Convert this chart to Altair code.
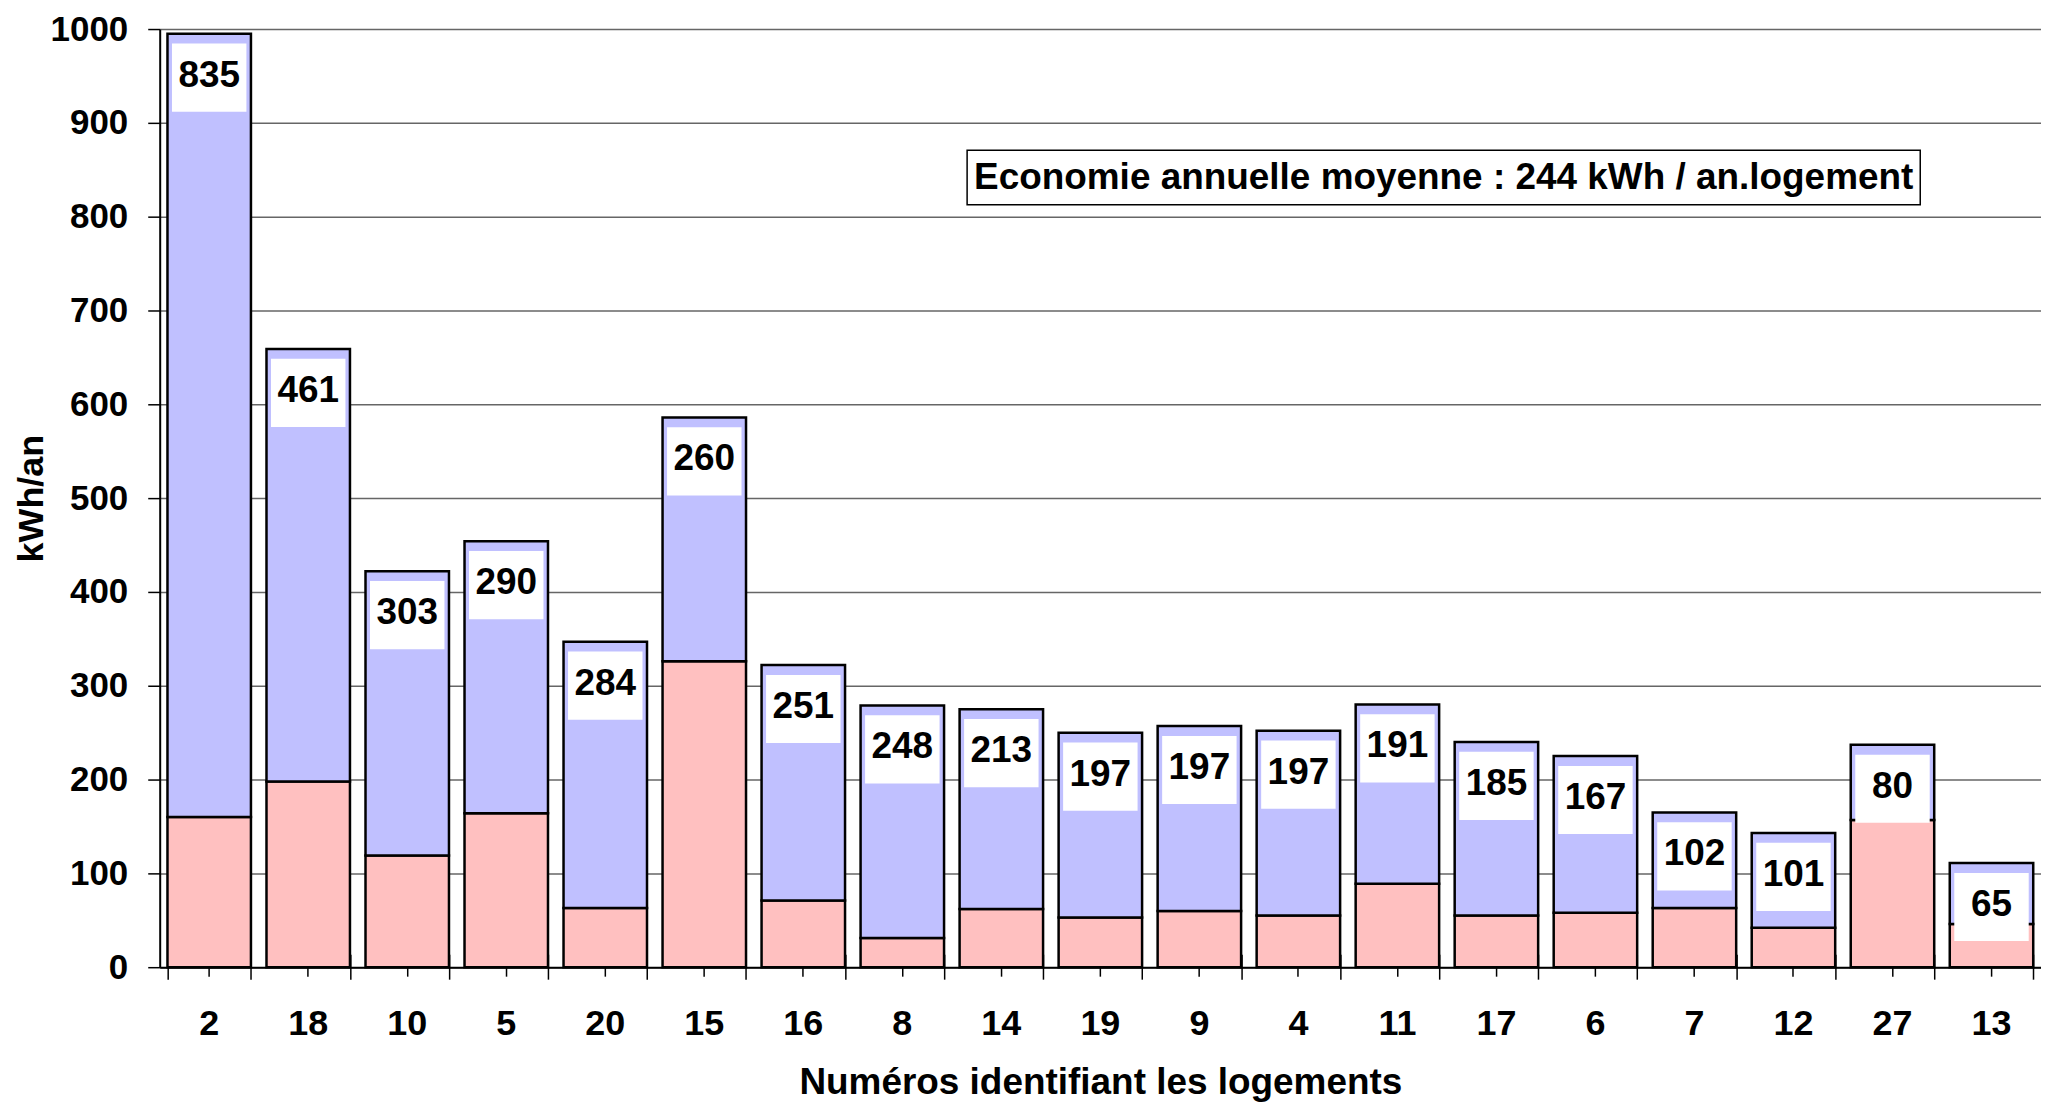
import altair as alt
import pandas as pd

# ---- data ----
logements = ["2", "18", "10", "5", "20", "15", "16", "8", "14", "19",
             "9", "4", "11", "17", "6", "7", "12", "27", "13"]
consommation_restante = [160, 198, 119, 164, 63, 326, 71, 31, 62, 53,
                         60, 55, 89, 55, 58, 63, 42, 157, 46]
economie = [835, 461, 303, 290, 284, 260, 251, 248, 213, 197,
            197, 197, 191, 185, 167, 102, 101, 80, 65]
y_ticks = list(range(0, 1001, 100))
annotation = ["Economie annuelle moyenne : 244 kWh / an.logement"]
x_title = "Numéros identifiant les logements"
y_title = "kWh/an"

df = pd.DataFrame({
    "logement": logements,
    "reste": consommation_restante,
    "economie": economie,
})
df["total"] = df["reste"] + df["economie"]
ann_df = pd.DataFrame({"txt": annotation})

FONT = "Liberation Sans"
W, H = 1885, 940

xscale = alt.Scale(paddingInner=0.157, paddingOuter=0.0785)
yscale = alt.Scale(domain=[0, 1000], nice=False, zero=True)

x_main_axis = alt.Axis(
    orient="bottom",
    title=x_title, titleFont=FONT, titleFontSize=37, titleFontWeight="bold",
    titleColor="black", titleX=W / 2, titleY=127, titleBaseline="alphabetic",
    titleAlign="center",
    labelFont=FONT, labelFontSize=36, labelFontWeight="bold", labelColor="black",
    labelAngle=0, labelBaseline="alphabetic", labelPadding=58,
    tickSize=9, tickColor="black", tickWidth=1.5, tickBand="center",
    domainColor="black", domainWidth=2, grid=False,
)
x_tick_axis = alt.Axis(
    orient="bottom",
    title=None, labels=False, domain=False, grid=False,
    tickBand="extent", tickSize=25, offset=-13, tickColor="black", tickWidth=1.5,
)
y_axis = alt.Axis(
    orient="left",
    values=y_ticks, format="d", title=y_title, titleFont=FONT, titleFontSize=36,
    titleFontWeight="bold", titleColor="black", titleAngle=270,
    titleX=-117, titleY=H / 2, titleBaseline="alphabetic", titleAlign="center",
    labelFont=FONT, labelFontSize=35, labelFontWeight="bold", labelColor="black",
    labelPadding=20, tickSize=12, tickColor="black", tickWidth=1.5,
    domainColor="black", domainWidth=2,
    grid=True, gridColor="#666666", gridWidth=1.5,
)

sort_order = logements
base = alt.Chart(df)

pink = base.mark_bar(fill="#FFC0C0", stroke="black", strokeWidth=2.5).encode(
    x=alt.X("logement:N", sort=sort_order, scale=xscale, axis=x_main_axis),
    y=alt.Y("reste:Q", scale=yscale, axis=y_axis),
)
blue = base.mark_bar(fill="#C0C0FF", stroke="black", strokeWidth=2.5).encode(
    x=alt.X("logement:N", sort=sort_order, scale=xscale, axis=None),
    y=alt.Y("reste:Q", scale=yscale, axis=y_axis),
    y2="total:Q",
)
box_path = "M-1,-0.9155L1,-0.9155L1,0.9155L-1,0.9155Z"
boxes = base.mark_point(
    shape=box_path, size=5565, filled=True, fill="white", opacity=1,
    strokeWidth=0, yOffset=44,
).encode(
    x=alt.X("logement:N", sort=sort_order, scale=xscale, axis=x_tick_axis),
    y=alt.Y("total:Q", scale=yscale, axis=y_axis),
)
labels = base.mark_text(
    font=FONT, fontSize=37, fontWeight="bold", color="black",
    baseline="middle", align="center", dy=42,
).encode(
    x=alt.X("logement:N", sort=sort_order, scale=xscale, axis=None),
    y=alt.Y("total:Q", scale=yscale, axis=y_axis),
    text=alt.Text("economie:Q"),
)

ann_box = alt.Chart(ann_df).mark_rect(fill="white", stroke="black", strokeWidth=1.5).encode(
    x=alt.value(809), x2=alt.value(1764), y=alt.value(121.5), y2=alt.value(176),
)
ann_text = alt.Chart(ann_df).mark_text(
    font=FONT, fontSize=37, fontWeight="bold", color="black",
    align="center", baseline="alphabetic",
).encode(x=alt.value(1286.5), y=alt.value(160.5), text="txt:N")

chart = alt.layer(pink, blue, boxes, labels, ann_box, ann_text).resolve_axis(
    x="independent", y="shared"
).properties(
    width=W, height=H,
    padding={"left": 152, "top": 20, "right": 0, "bottom": 138},
    autosize=alt.AutoSizeParams(type="none"),
    background="white",
).configure_view(stroke=None)

chart.save("out.html", embed_options={"renderer": "svg", "actions": False})
